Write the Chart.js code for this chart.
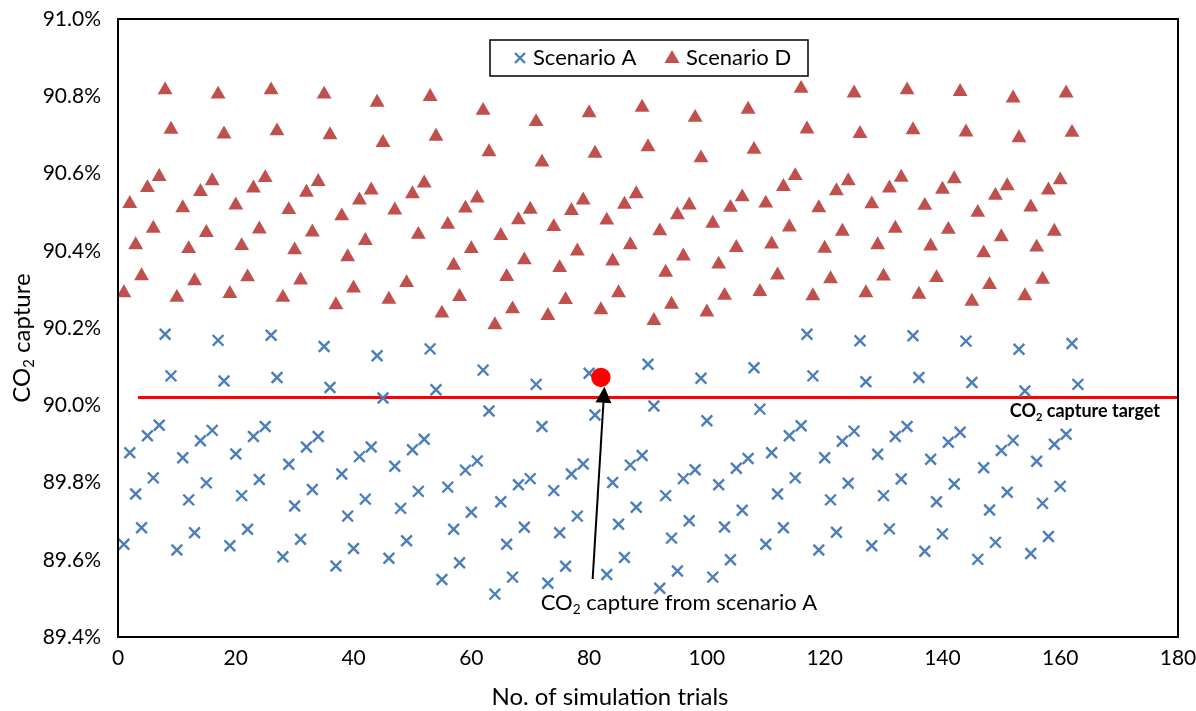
<!DOCTYPE html>
<html>
<head>
<meta charset="utf-8">
<style>
  html, body { margin: 0; padding: 0; background: #fff; }
  #wrap { width: 1196px; height: 711px; position: relative; }
</style>
<script src="https://cdn.jsdelivr.net/npm/chart.js@4.4.1/dist/chart.umd.min.js"></script>
</head>
<body>
<div id="wrap"><canvas id="myChart" width="1196" height="711"></canvas></div>
<script>
// CO2 capture (%) per simulation trial
const scenarioA = [
  89.640, 89.877, 89.770, 89.683, 89.921, 89.812, 89.948, 90.184, 90.076,
  89.625, 89.864, 89.755, 89.670, 89.908, 89.799, 89.935, 90.168, 90.063,
  89.636, 89.874, 89.766, 89.679, 89.919, 89.808, 89.945, 90.181, 90.072,
  89.608, 89.847, 89.739, 89.653, 89.892, 89.782, 89.919, 90.152, 90.046,
  89.584, 89.822, 89.713, 89.629, 89.867, 89.757, 89.892, 90.128, 90.019,
  89.604, 89.842, 89.733, 89.649, 89.885, 89.777, 89.912, 90.146, 90.040,
  89.549, 89.788, 89.679, 89.592, 89.832, 89.723, 89.856, 90.091, 89.985,
  89.511, 89.750, 89.640, 89.555, 89.794, 89.684, 89.810, 90.054, 89.945,
  89.539, 89.779, 89.670, 89.583, 89.822, 89.713, 89.848, 90.083, 89.975,
  90.072,
  89.562, 89.800, 89.692, 89.606, 89.845, 89.736, 89.870, 90.106, 89.998,
  89.526, 89.766, 89.656, 89.571, 89.810, 89.701, 89.833, 90.070, 89.960,
  89.555, 89.794, 89.685, 89.600, 89.837, 89.728, 89.862, 90.097, 89.990,
  89.640, 89.877, 89.770, 89.683, 89.921, 89.812, 89.947, 90.184, 90.076,
  89.625, 89.864, 89.755, 89.671, 89.907, 89.798, 89.933, 90.167, 90.061,
  89.636, 89.873, 89.766, 89.680, 89.919, 89.809, 89.945, 90.180, 90.072,
  89.622, 89.860, 89.750, 89.667, 89.904, 89.796, 89.930, 90.166, 90.059,
  89.601, 89.838, 89.729, 89.645, 89.883, 89.775, 89.909, 90.145, 90.037,
  89.616, 89.855, 89.746, 89.660, 89.899, 89.790, 89.925, 90.160, 90.054
];

const scenarioD = [
  90.291, 90.522, 90.415, 90.335, 90.563, 90.458, 90.592, 90.816, 90.714,
  90.279, 90.511, 90.405, 90.322, 90.553, 90.447, 90.581, 90.805, 90.702,
  90.289, 90.518, 90.413, 90.332, 90.562, 90.456, 90.589, 90.816, 90.710,
  90.279, 90.506, 90.402, 90.324, 90.551, 90.448, 90.579, 90.805, 90.700,
  90.260, 90.490, 90.384, 90.303, 90.531, 90.426, 90.557, 90.784, 90.680,
  90.274, 90.505, null,   90.317, 90.547, 90.442, 90.575, 90.799, 90.696,
  90.238, 90.468, 90.362, 90.281, 90.510, 90.405, 90.536, 90.763, 90.656,
  90.208, 90.439, 90.333, 90.249, 90.480, 90.376, 90.507, 90.734, 90.629,
  90.232, 90.462, 90.356, 90.273, 90.504, 90.399, 90.531, 90.757, 90.652,
  90.247, 90.479, 90.373, 90.291, 90.520, 90.415, 90.547, 90.771, 90.669,
  90.219, 90.451, 90.344, 90.261, 90.493, 90.386, 90.518, 90.745, 90.640,
  90.241, 90.471, 90.365, 90.284, 90.512, 90.408, 90.539, 90.766, 90.662,
  90.294, 90.523, 90.417, 90.337, 90.566, 90.461, 90.594, 90.820, 90.715,
  90.283, 90.511, 90.406, 90.327, 90.555, 90.450, 90.581, 90.808, 90.703,
  90.291, 90.521, 90.415, 90.334, 90.562, 90.458, 90.590, 90.816, 90.713,
  90.287, 90.517, 90.412, 90.330, 90.559, 90.455, 90.586, 90.812, 90.707,
  90.269, 90.499, 90.394, 90.312, 90.543, 90.436, 90.568, 90.795, 90.692,
  90.283, 90.513, 90.409, 90.326, 90.557, 90.450, 90.583, 90.808, 90.706
];

// trial of scenario A picked out with the red dot
const highlightTrials = [82];

// CO2 capture target line
const targetTrials = [3.4, 180];
const targetValues = [90.02, 90.02];

// arrow: from the label up to the highlighted point (trial, capture)
const arrowFrom = [80.6, 89.55];
const arrowTo = [82.6, 90.048];

const xTicks = [0, 20, 40, 60, 80, 100, 120, 140, 160, 180];
const yTicks = [89.4, 89.6, 89.8, 90.0, 90.2, 90.4, 90.6, 90.8, 91.0];

const FONT = 'Lato';
const blue = '#4A7EBB';
const red = '#C0504D';

function toPoints(values) {
  return values.map((v, i) => ({ x: i + 1, y: v }));
}

// draws text with a subscript part, parts = [[text, isSub], ...]
function drawRich(ctx, parts, x, y, size, weight, align) {
  ctx.save();
  const widths = parts.map(p => {
    ctx.font = weight + ' ' + (p[1] ? size * 0.62 : size) + 'px ' + FONT;
    return ctx.measureText(p[0]).width;
  });
  const total = widths.reduce((a, b) => a + b, 0);
  let cx = align === 'center' ? x - total / 2 : (align === 'right' ? x - total : x);
  ctx.textAlign = 'left';
  ctx.textBaseline = 'middle';
  ctx.fillStyle = '#000';
  parts.forEach((p, i) => {
    ctx.font = weight + ' ' + (p[1] ? size * 0.62 : size) + 'px ' + FONT;
    ctx.fillText(p[0], cx, p[1] ? y + size * 0.3 : y);
    cx += widths[i];
  });
  ctx.restore();
}

const decorations = {
  id: 'decorations',
  afterDatasetsDraw(chart) {
    const ctx = chart.ctx;
    const area = chart.chartArea;
    const xs = chart.scales.x;
    const ys = chart.scales.y;

    // plot border
    ctx.save();
    ctx.strokeStyle = '#000';
    ctx.lineWidth = 2;
    ctx.strokeRect(area.left, area.top, area.right - area.left, area.bottom - area.top);
    ctx.restore();

    // target label
    drawRich(ctx, [['CO', false], ['2', true], [' capture target', false]],
      area.right - 18, ys.getPixelForValue(targetValues[0]) + 14, 18, 'bold', 'right');

    // arrow
    const x0 = xs.getPixelForValue(arrowFrom[0]), y0 = ys.getPixelForValue(arrowFrom[1]);
    const x1 = xs.getPixelForValue(arrowTo[0]), y1 = ys.getPixelForValue(arrowTo[1]);
    const ang = Math.atan2(y1 - y0, x1 - x0);
    const headLen = 16, headW = 8;
    const bx = x1 - Math.cos(ang) * headLen, by = y1 - Math.sin(ang) * headLen;
    ctx.save();
    ctx.strokeStyle = '#000';
    ctx.fillStyle = '#000';
    ctx.lineWidth = 2;
    ctx.beginPath();
    ctx.moveTo(x0, y0);
    ctx.lineTo(bx, by);
    ctx.stroke();
    ctx.beginPath();
    ctx.moveTo(x1, y1);
    ctx.lineTo(bx + Math.sin(ang) * headW, by - Math.cos(ang) * headW);
    ctx.lineTo(bx - Math.sin(ang) * headW, by + Math.cos(ang) * headW);
    ctx.closePath();
    ctx.fill();
    ctx.restore();

    drawRich(ctx, [['CO', false], ['2', true], [' capture from scenario A', false]],
      679, y0 + 24, 22, 'normal', 'center');

    // legend box
    const lx = 490, ly = 40, lw = 318, lh = 36;
    ctx.save();
    ctx.fillStyle = '#fff';
    ctx.fillRect(lx, ly, lw, lh);
    ctx.strokeStyle = '#000';
    ctx.lineWidth = 1.5;
    ctx.strokeRect(lx, ly, lw, lh);
    const my = ly + lh / 2;
    ctx.strokeStyle = blue;
    ctx.lineWidth = 2.4;
    ctx.beginPath();
    const d = 5;
    ctx.moveTo(lx + 30 - d, my - d); ctx.lineTo(lx + 30 + d, my + d);
    ctx.moveTo(lx + 30 - d, my + d); ctx.lineTo(lx + 30 + d, my - d);
    ctx.stroke();
    ctx.fillStyle = red;
    ctx.beginPath();
    ctx.moveTo(lx + 182, my - 8);
    ctx.lineTo(lx + 189.5, my + 5);
    ctx.lineTo(lx + 174.5, my + 5);
    ctx.closePath();
    ctx.fill();
    ctx.fillStyle = '#000';
    ctx.font = '22px ' + FONT;
    ctx.textBaseline = 'middle';
    ctx.textAlign = 'left';
    ctx.fillText('Scenario A', lx + 43, my);
    ctx.fillText('Scenario D', lx + 196, my);
    ctx.restore();

    // axis titles
    drawRich(ctx, [['No. of simulation trials', false]], 610, 697, 24, 'normal', 'center');
    ctx.save();
    ctx.translate(22, 338);
    ctx.rotate(-Math.PI / 2);
    drawRich(ctx, [['CO', false], ['2', true], [' capture', false]], 0, 0, 24, 'normal', 'center');
    ctx.restore();
  }
};

function makeChart() {
  Chart.defaults.font.family = FONT;
  Chart.defaults.color = '#000';
  const ctx = document.getElementById('myChart');
  new Chart(ctx, {
    type: 'scatter',
    data: {
      datasets: [
        {
          label: 'Scenario A',
          data: toPoints(scenarioA),
          pointStyle: c => highlightTrials.includes(c.dataIndex + 1) ? 'circle' : 'crossRot',
          radius: c => highlightTrials.includes(c.dataIndex + 1) ? 8.5 : 7.6,
          borderColor: c => highlightTrials.includes(c.dataIndex + 1) ? '#FF0000' : blue,
          backgroundColor: c => highlightTrials.includes(c.dataIndex + 1) ? '#FF0000' : blue,
          borderWidth: 2.4
        },
        {
          label: 'Scenario D',
          data: toPoints(scenarioD),
          pointStyle: 'triangle',
          radius: 8.6,
          borderColor: red,
          backgroundColor: red,
          borderWidth: 0
        },
        {
          label: 'Target',
          type: 'line',
          data: targetTrials.map((t, i) => ({ x: t, y: targetValues[i] })),
          borderColor: '#FF0000',
          borderWidth: 3,
          pointRadius: 0,
          fill: false
        }
      ]
    },
    options: {
      responsive: false,
      animation: false,
      layout: { padding: { top: 19, right: 18, left: 0, bottom: 0 } },
      plugins: { legend: { display: false }, tooltip: { enabled: false } },
      scales: {
        x: {
          type: 'linear',
          min: 0,
          max: 180,
          grid: { display: false, drawTicks: false },
          border: { display: false },
          afterBuildTicks: s => { s.ticks = xTicks.map(v => ({ value: v })); },
          afterFit: s => { s.height = 74; s.paddingLeft = 0; s.paddingRight = 0; },
          ticks: { font: { size: 21 }, padding: 9, maxRotation: 0, color: '#000' }
        },
        y: {
          type: 'linear',
          min: 89.4,
          max: 91.0,
          grid: { display: false, drawTicks: false },
          border: { display: false },
          afterBuildTicks: s => { s.ticks = yTicks.map(v => ({ value: v })); },
          afterFit: s => { s.width = 118; s.paddingTop = 0; s.paddingBottom = 0; },
          ticks: { font: { size: 21 }, padding: 17, color: '#000', callback: v => v.toFixed(1) + '%' }
        }
      }
    },
    plugins: [decorations]
  });
}

Promise.all([
  document.fonts.load('21px Lato'),
  document.fonts.load('bold 18px Lato')
]).then(makeChart, makeChart);
</script>
</body>
</html>
